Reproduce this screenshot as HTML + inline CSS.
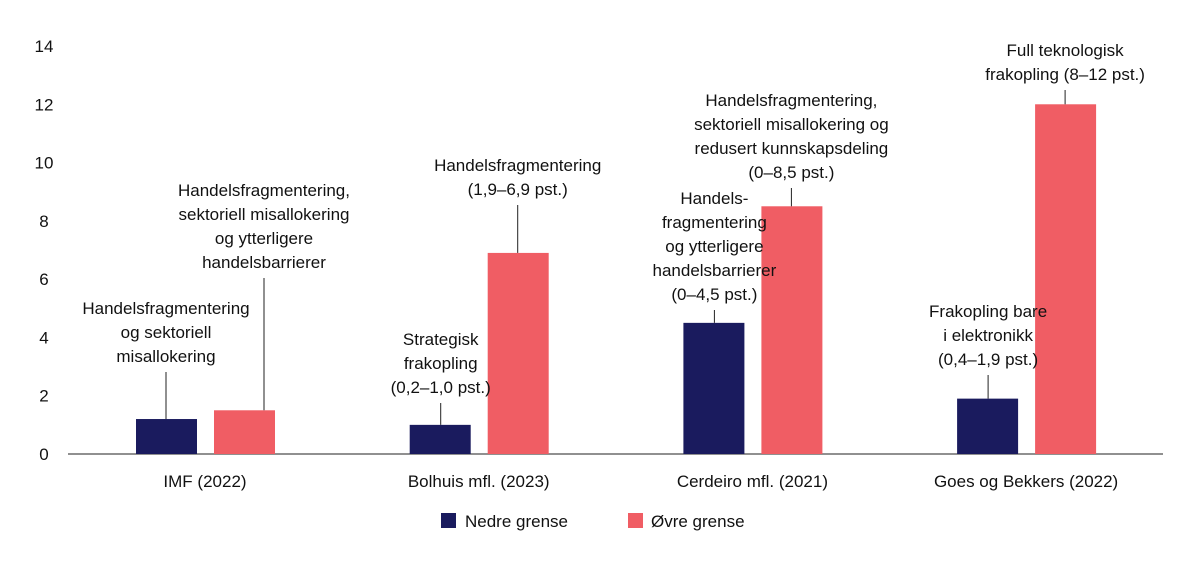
<!DOCTYPE html>
<html><head><meta charset="utf-8"><style>
body{margin:0;background:#fff;}
svg text{font-family:"Liberation Sans",sans-serif;fill:#111;}
</style></head><body>
<svg id="chart" width="1198" height="568"></svg>
<script>
const categories=["IMF (2022)","Bolhuis mfl. (2023)","Cerdeiro mfl. (2021)","Goes og Bekkers (2022)"];
const lowerValues=[1.2,1.0,4.5,1.9];
const upperValues=[1.5,6.9,8.5,12];
const yTicks=[0,2,4,6,8,10,12,14];
const lowerLabels=[["Handelsfragmentering","og sektoriell","misallokering"],["Strategisk","frakopling","(0,2–1,0 pst.)"],["Handels-","fragmentering","og ytterligere","handelsbarrierer","(0–4,5 pst.)"],["Frakopling bare","i elektronikk","(0,4–1,9 pst.)"]];
const upperLabels=[["Handelsfragmentering,","sektoriell misallokering","og ytterligere","handelsbarrierer"],["Handelsfragmentering","(1,9–6,9 pst.)"],["Handelsfragmentering,","sektoriell misallokering og","redusert kunnskapsdeling","(0–8,5 pst.)"],["Full teknologisk","frakopling (8–12 pst.)"]];
const lowerLineTop=[372,403,310,375];
const upperLineTop=[278,205,188,90];

const svg=document.getElementById('chart');
const NS='http://www.w3.org/2000/svg';
const y0=454,yPer=(454-46)/14;
const yS=v=>y0-v*yPer;
const xC=i=>205+i*273.7;
function mk(t,a,p){const e=document.createElementNS(NS,t);for(const k in a)e.setAttribute(k,a[k]);(p||svg).appendChild(e);return e;}

yTicks.forEach(t=>{
 const e=mk('text',{x:44,y:yS(t)+6,'text-anchor':'middle','font-size':17});
 e.textContent=t;
 
 
});
const base=mk('line',{x1:68,x2:1163,y1:y0,y2:y0,stroke:'#222','stroke-width':1});



function label(lines,cx,lineTop,barTop,name){
 const n=lines.length;
 lines.forEach((l,j)=>{
  const e=mk('text',{x:cx,y:lineTop-10-(n-1-j)*24,'text-anchor':'middle','font-size':17});
  e.textContent=l;
  
  
 });
 const ln=mk('line',{x1:cx,x2:cx,y1:lineTop,y2:barTop,stroke:'#222','stroke-width':1});
 
 
}

categories.forEach((c,i)=>{
 const cx=xC(i);
 const b1=mk('rect',{x:cx-69,y:yS(lowerValues[i]),width:61,height:y0-yS(lowerValues[i]),fill:'#1a1b5e'});
 
 
 const b2=mk('rect',{x:cx+9,y:yS(upperValues[i]),width:61,height:y0-yS(upperValues[i]),fill:'#f05d64'});
 
 
 const lx=i===0?cx-53:cx-38;
 label(lowerLabels[i],lx+(i===0?14:0),lowerLineTop[i],yS(lowerValues[i]),'lower-label-'+i);
 const ux=cx+39+(i===0?20:0);
 label(upperLabels[i],ux,upperLineTop[i],yS(upperValues[i]),'upper-label-'+i);
 const t=mk('text',{x:cx,y:487,'text-anchor':'middle','font-size':17});
 t.textContent=c;
 
 
});

const lg=mk('g',{});


const r1=mk('rect',{x:441,y:513,width:15,height:15,fill:'#1a1b5e'},lg);


const t1=mk('text',{x:465,y:527,'font-size':17},lg);t1.textContent='Nedre grense';


const r2=mk('rect',{x:628,y:513,width:15,height:15,fill:'#f05d64'},lg);


const t2=mk('text',{x:651,y:527,'font-size':17},lg);t2.textContent='Øvre grense';


</script>
</body></html>
